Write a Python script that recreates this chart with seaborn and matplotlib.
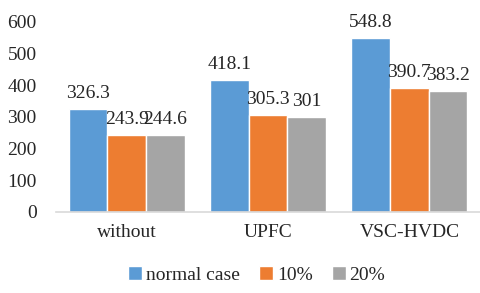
import pandas as pd
import matplotlib
matplotlib.use("Agg")
import matplotlib.pyplot as plt
import seaborn as sns

# Values
categories = ["without", "UPFC", "VSC-HVDC"]
series = ["normal case", "10%", "20%"]
normal_case = [326.3, 418.1, 548.8]
pct10 = [243.9, 305.3, 390.7]
pct20 = [244.6, 301, 383.2]
labels = [["326.3", "418.1", "548.8"],
          ["243.9", "305.3", "390.7"],
          ["244.6", "301", "383.2"]]

df = pd.DataFrame({
    "case": categories * 3,
    "series": [s for s in series for _ in categories],
    "value": normal_case + pct10 + pct20,
})

sns.set_theme(style="white")
plt.rcParams["font.family"] = ["Liberation Serif", "DejaVu Serif"]

palette = ["#5B9BD5", "#ED7D31", "#A5A5A5"]

fig = plt.figure(figsize=(4.8, 2.93), dpi=100)
ax = fig.add_axes([0.117, 0.2765, 0.883, 0.6485])

sns.barplot(data=df, x="case", y="value", hue="series", palette=palette,
            width=0.82, gap=0, saturation=1, ax=ax, legend=True)

for cont, lab in zip(ax.containers, labels):
    ax.bar_label(cont, labels=lab, padding=5, fontsize=14, color="#262626")

ax.set_ylim(0, 600)
ax.set_yticks(range(0, 601, 100))
ax.set_xlim(-0.5, 2.5)
ax.set_xlabel("")
ax.set_ylabel("")
ax.tick_params(axis="both", length=0, labelsize=14, colors="#262626")
ax.tick_params(axis="x", pad=9)
ax.tick_params(axis="y", pad=14)
for s in ["top", "right", "left"]:
    ax.spines[s].set_visible(False)
ax.spines["bottom"].set_color("#D9D9D9")
ax.spines["bottom"].set_linewidth(1.2)

handles, names = ax.get_legend_handles_labels()
ax.get_legend().remove()
fig.legend(handles, names, loc="center", bbox_to_anchor=(0.535, 0.062), ncol=3,
           frameon=False, fontsize=14, handlelength=0.7, handleheight=0.7,
           handletextpad=0.2, columnspacing=1.0)

fig.savefig("out.png", dpi=100)
